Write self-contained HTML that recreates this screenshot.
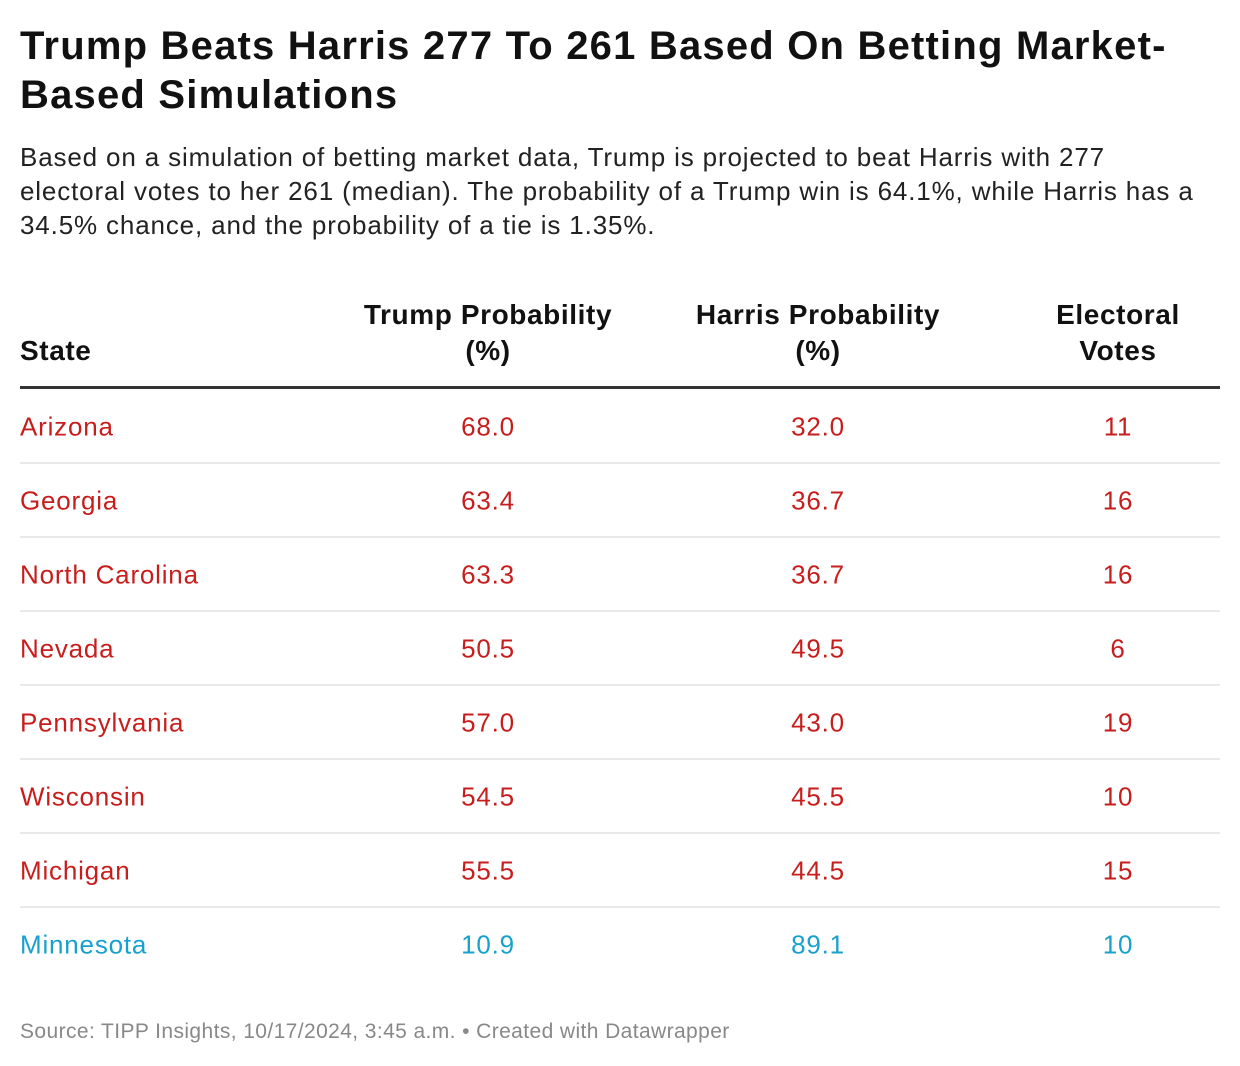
<!DOCTYPE html>
<html><head><meta charset="utf-8"><style>
body{margin:0;width:1240px;height:1066px;background:#fff;font-family:"Liberation Sans",sans-serif;position:relative;overflow:hidden}
.abs{position:absolute;white-space:nowrap}
h1{position:absolute;left:20px;top:22px;margin:0;font-size:40px;line-height:49px;font-weight:bold;color:#111;letter-spacing:1.2px;white-space:nowrap}
.sub{left:20px;top:140px;font-size:26px;line-height:34px;color:#222;letter-spacing:0.85px}
.hd{font-weight:bold;font-size:28px;line-height:36px;color:#111;text-align:center;transform:translateX(-50%);letter-spacing:0.6px}
.cell{font-size:26px;transform:translate(-50%,-50%);letter-spacing:0.8px}
.st{font-size:26px;transform:translateY(-50%);left:20px;letter-spacing:0.8px}
.sep{position:absolute;left:20px;width:1200px;height:2px;background:#e8e8e8}
.r{color:#c71e1d}.b{color:#18a1cd}
</style></head><body>
<h1>Trump Beats Harris 277 To 261 Based On Betting Market-<br>Based Simulations</h1>
<div class="abs sub">Based on a simulation of betting market data, Trump is projected to beat Harris with 277<br>electoral votes to her 261 (median). The probability of a Trump win is 64.1%, while Harris has a<br>34.5% chance, and the probability of a tie is 1.35%.</div>
<div class="abs hd" style="left:20px;top:333px;transform:none;text-align:left">State</div>
<div class="abs hd" style="left:488px;top:297px">Trump Probability<br>(%)</div>
<div class="abs hd" style="left:818px;top:297px">Harris Probability<br>(%)</div>
<div class="abs hd" style="left:1118px;top:297px">Electoral<br>Votes</div>
<div style="position:absolute;left:20px;top:386px;width:1200px;height:3px;background:#333"></div>
<div id="rows"></div>
<div class="abs" style="left:20px;top:1020px;font-size:21px;color:#888;letter-spacing:0.4px">Source: TIPP Insights, 10/17/2024, 3:45 a.m. • Created with Datawrapper</div>
<script>
const states=["Arizona","Georgia","North Carolina","Nevada","Pennsylvania","Wisconsin","Michigan","Minnesota"];
const trump=["68.0","63.4","63.3","50.5","57.0","54.5","55.5","10.9"];
const harris=["32.0","36.7","36.7","49.5","43.0","45.5","44.5","89.1"];
const votes=[11,16,16,6,19,10,15,10];
const root=document.getElementById('rows');
states.forEach((s,i)=>{
  const y=427+i*74;
  const cls=parseFloat(trump[i])>=50?'r':'b';
  const row=document.createElement('div');
  
  
  const mk=(txt,c,x,name)=>{
    const d=document.createElement('div');
    d.className='abs '+c+' '+cls;
    d.style.top=y+'px';
    if(x!==null)d.style.left=x+'px';
    d.textContent=txt;
    
    
    row.appendChild(d);
  };
  mk(s,'st',null,'state-name');
  mk(trump[i],'cell',488,'trump-probability');
  mk(harris[i],'cell',818,'harris-probability');
  mk(String(votes[i]),'cell',1118,'electoral-votes');
  if(i<states.length-1){
    const sp=document.createElement('div');
    sp.className='sep';sp.style.top=(y+35)+'px';
    
    
    row.appendChild(sp);
  }
  root.appendChild(row);
});
</script>
</body></html>
